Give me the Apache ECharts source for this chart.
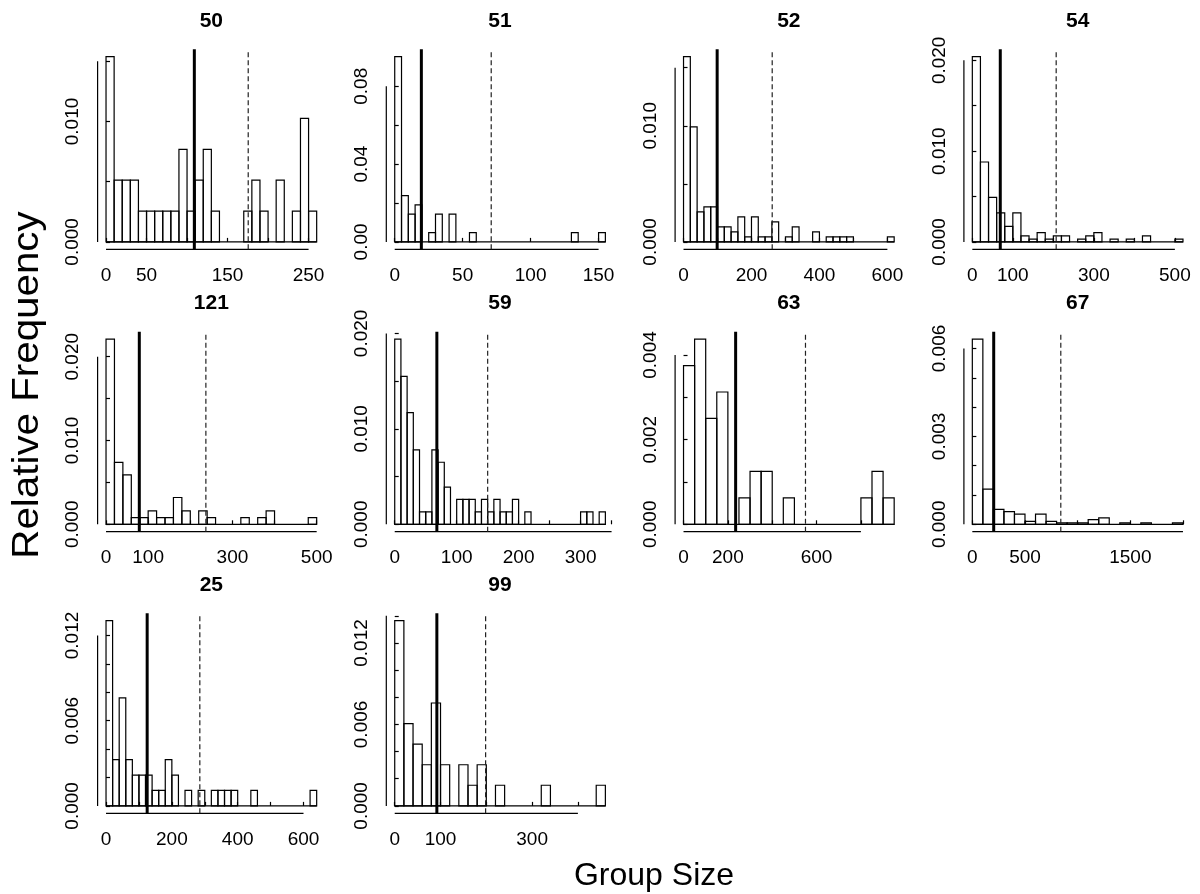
<!DOCTYPE html>
<html><head><meta charset="utf-8">
<script src="https://cdn.jsdelivr.net/npm/echarts@6/dist/echarts.min.js"></script>
<style>html,body{margin:0;padding:0;background:#fff}#c{width:1200px;height:894px}</style>
</head><body><div id="c"></div>
<script>
// ---------- data ----------
const panelNames = ['50','51','52','54','121','59','63','67','25','99'];
const binStart = [0,0,0,0,0,0,0,0,0,0];
const binWidth = [10,5,20,20,20,10,50,100,20,20];
const dens50  = [0.01538,0.00513,0.00513,0.00513,0.00256,0.00256,0.00256,0.00256,0.00256,0.00769,0.00256,0.00513,0.00769,0.00256,0,0,0,0.00256,0.00513,0.00256,0,0.00513,0,0.00256,0.01026,0.00256];
const dens51  = [0.0952,0.0238,0.0143,0.0190,0,0.0048,0.0143,0,0.0143,0,0,0.0048,0,0,0,0,0,0,0,0,0,0,0,0,0,0,0.0048,0,0,0,0.0048];
const dens52  = [0.01595,0.00991,0.00259,0.00302,0.00302,0.00129,0.00129,0.00086,0.00216,0.00043,0.00216,0.00043,0.00043,0.00172,0,0.00043,0.00129,0,0,0.00086,0,0.00043,0.00043,0.00043,0.00043,0,0,0,0,0,0.00043];
const dens54  = [0.0204,0.0088,0.0049,0.0032,0.0017,0.0032,0.00066,0.0003,0.00103,0.0003,0.00066,0.00066,0,0.0003,0.00066,0.00103,0,0.0003,0,0.0003,0,0.00066,0,0,0,0.0003];
const dens121 = [0.0221,0.0074,0.0059,0.0008,0.0008,0.0016,0.0008,0.0008,0.0032,0.0016,0,0.0016,0.0008,0,0,0,0.0008,0,0.0008,0.0016,0,0,0,0,0.0008];
const dens59  = [0.0194,0.0155,0.0117,0.0078,0.0013,0.0013,0.0078,0.0065,0.0039,0,0.0026,0.0026,0.0026,0.0013,0.0026,0.0013,0.0026,0.0013,0.0013,0.0026,0,0.0013,0,0,0,0,0,0,0,0,0.0013,0.0013,0,0.0013];
const dens63  = [0.00375,0.004375,0.0025,0.003125,0,0.000625,0.00125,0.00125,0,0.000625,0,0,0,0,0,0,0.000625,0.00125,0.000625];
const dens67  = [0.00632,0.0012,0.00051,0.00043,0.00035,0.0001,0.00035,0.0001,0.00005,0.00005,0.00005,0.00016,0.00022,0,0.00005,0,0.00005,0,0,0.00005];
const dens25  = [0.01304,0.00326,0.00761,0.00326,0.00217,0.00217,0.00217,0.00109,0.00109,0.00326,0.00217,0,0.00109,0,0.00109,0,0.00109,0.00109,0.00109,0.00109,0,0,0.00109,0,0,0,0,0,0,0,0,0.00109];
const dens99  = [0.01364,0.00606,0.00455,0.00303,0.00758,0.00303,0,0.00303,0.00152,0.00303,0,0.00152,0,0,0,0,0.00152,0,0,0,0,0,0.00152];
const densities = [dens50,dens51,dens52,dens54,dens121,dens59,dens63,dens67,dens25,dens99];
const solidLine  = [109, 19.6, 99, 69, 79, 68, 235, 203, 125, 92];
const dashedLine = [175.5, 71, 261, 207, 237, 150, 550, 840, 285, 198.5];
const xTicks = [
  [0,50,100,150,200,250],[0,50,100,150],[0,100,200,300,400,500,600],[0,100,200,300,400,500],
  [0,100,200,300,400,500],[0,50,100,150,200,250,300,350],[0,200,400,600,800],[0,500,1000,1500,2000],
  [0,100,200,300,400,500,600],[0,100,200,300,400]];
const xLabels = [
  [0,50,150,250],[0,50,100,150],[0,200,400,600],[0,100,300,500],
  [0,100,300,500],[0,100,200,300],[0,200,600],[0,500,1500],
  [0,200,400,600],[0,100,300]];
const yTicks = [
  [0,0.005,0.01,0.015],[0,0.02,0.04,0.06,0.08],[0,0.005,0.01,0.015],[0,0.005,0.01,0.015,0.02],
  [0,0.005,0.01,0.015,0.02],[0,0.005,0.01,0.015,0.02],[0,0.001,0.002,0.003,0.004],[0,0.001,0.002,0.003,0.004,0.005,0.006],
  [0,0.002,0.004,0.006,0.008,0.01,0.012],[0,0.002,0.004,0.006,0.008,0.01,0.012,0.014]];
const yLabels = [
  ['0.000','0.010'],['0.00','0.04','0.08'],['0.000','0.010'],['0.000','0.010','0.020'],
  ['0.000','0.010','0.020'],['0.000','0.010','0.020'],['0.000','0.002','0.004'],['0.000','0.003','0.006'],
  ['0.000','0.006','0.012'],['0.000','0.006','0.012']];
const yTitle = 'Relative Frequency';
const xTitle = 'Group Size';

// ---------- layout ----------
const FONT = '"Liberation Sans", Arial, Helvetica, sans-serif';
const colLeft = [97.6, 386.3, 675.1, 963.9];
const rowTop = [49.3, 331.7, 613.3];
const PW = 227.5, PH = 200;

const grids=[], xAxes=[], yAxes=[], series=[], graphics=[];
panelNames.forEach((name,i)=>{
  const col=i%4, row=Math.floor(i/4);
  const d=densities[i], w=binWidth[i], s=binStart[i];
  const xEnd = s + w*d.length, xr = xEnd - s;
  const ymax = Math.max(...d);
  const xlo = s-0.04*xr, xhi = xEnd+0.04*xr, ylo = -0.04*ymax, yhi = 1.04*ymax;
  const dec = yLabels[i][0].split('.')[1].length;
  grids.push({left:colLeft[col], top:rowTop[row], width:PW, height:PH});
  xAxes.push({gridIndex:i, type:'value', min:xlo, max:xhi,
    axisLine:{show:false}, splitLine:{show:false},
    axisTick:{show:true, inside:true, length:4, customValues:xTicks[i], lineStyle:{color:'#000', width:1.2}},
    axisLabel:{customValues:xLabels[i], margin:17, color:'#000', fontSize:19, fontFamily:FONT, formatter:v=>String(v)}});
  yAxes.push({gridIndex:i, type:'value', min:ylo, max:yhi,
    axisLine:{show:false}, splitLine:{show:false},
    axisTick:{show:true, inside:true, length:4, customValues:yTicks[i], lineStyle:{color:'#000', width:1.2}},
    axisLabel:{customValues:yLabels[i].map(Number), rotate:90, margin:15, color:'#000', fontSize:19, fontFamily:FONT, formatter:v=>v.toFixed(dec)}});
  const lineBase = {type:'line', xAxisIndex:i, yAxisIndex:i, showSymbol:false, symbol:'none', silent:true, clip:false};
  // histogram bars; first item also carries the baseline across all bins (empty bins show as a line, like R)
  series.push({type:'custom', xAxisIndex:i, yAxisIndex:i, silent:true,
    data:d.map((v,k)=>[s+k*w, s+(k+1)*w, v]),
    encode:{x:[0,1], y:2},
    renderItem:(p,api)=>{
      const a=api.coord([api.value(0), api.value(2)]), b=api.coord([api.value(1), 0]);
      const st={fill:'none', stroke:'#000', lineWidth:1.2};
      const kids=[];
      if (p.dataIndex === 0) {
        const e=api.coord([xEnd, 0]);
        kids.push({type:'line', shape:{x1:a[0], y1:b[1], x2:e[0], y2:e[1]}, style:{stroke:'#000', lineWidth:1.2}});
      }
      if (b[1]-a[1] > 0.01) {
        kids.push({type:'rect', shape:{x:a[0], y:a[1], width:b[0]-a[0], height:b[1]-a[1]}, style:st});
      }
      return {type:'group', children:kids};
    }});
  // axis lines (R style: from first to last tick)
  series.push(Object.assign({}, lineBase, {data:[[xTicks[i][0], ylo],[xTicks[i][xTicks[i].length-1], ylo]], lineStyle:{color:'#000', width:1.2}}));
  series.push(Object.assign({}, lineBase, {data:[[xlo, yTicks[i][0]],[xlo, yTicks[i][yTicks[i].length-1]]], lineStyle:{color:'#000', width:1.2}}));
  // vertical reference lines
  series.push(Object.assign({}, lineBase, {data:[[solidLine[i], ylo],[solidLine[i], yhi]], lineStyle:{color:'#000', width:3}}));
  series.push(Object.assign({}, lineBase, {data:[[dashedLine[i], ylo],[dashedLine[i], yhi]], lineStyle:{color:'#222', width:1.2, type:[5,3]}}));
  graphics.push({type:'text', x:colLeft[col]+PW/2, y:rowTop[row]-28,
    style:{text:name, fill:'#000', font:'bold 21px '+FONT, textAlign:'center', textVerticalAlign:'middle'}});
});
graphics.push({type:'text', x:28, y:385, rotation:Math.PI/2, scaleX:1.12,
  style:{text:yTitle, fill:'#000', font:'36px '+FONT, textAlign:'center', textVerticalAlign:'middle'}});
graphics.push({type:'text', x:654, y:876,
  style:{text:xTitle, fill:'#000', font:'32px '+FONT, textAlign:'center', textVerticalAlign:'middle'}});

const chart = echarts.init(document.getElementById('c'), null, {renderer:'canvas'});
chart.setOption({animation:false, backgroundColor:'#fff', grid:grids, xAxis:xAxes, yAxis:yAxes, series:series, graphic:graphics});
</script></body></html>
